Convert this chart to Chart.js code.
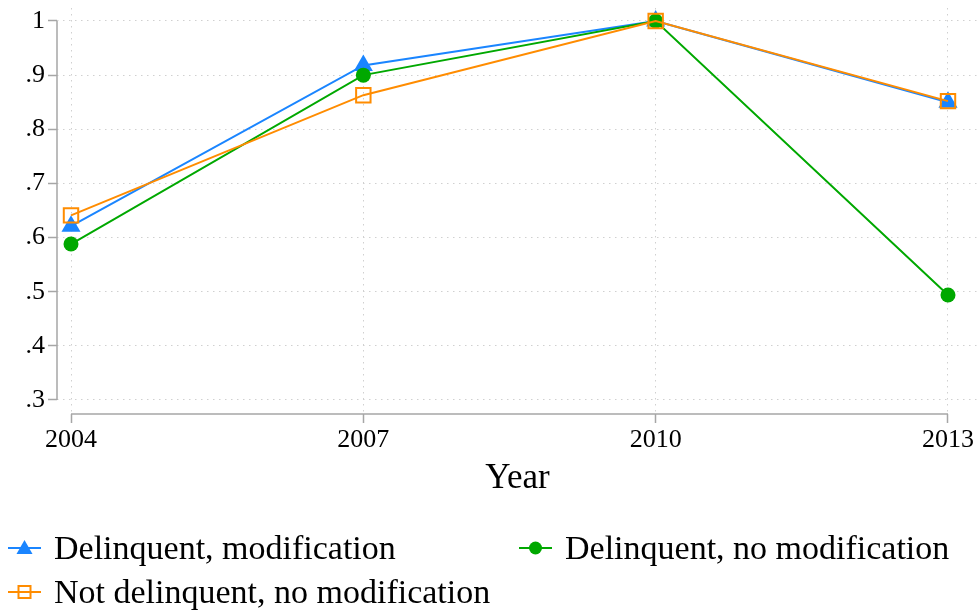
<!DOCTYPE html>
<html>
<head>
<meta charset="utf-8">
<script src="https://cdn.jsdelivr.net/npm/chart.js@4"></script>
<style>
  html, body { margin: 0; padding: 0; background: #fff; }
  #wrap { width: 978px; height: 614px; position: relative; }
</style>
</head>
<body>
<div id="wrap"><canvas id="grafico" width="978" height="614"></canvas></div>
<script>
// datos
var years = [2004, 2007, 2010, 2013];
var delinqMod = [0.621, 0.918, 1.0, 0.85];
var delinqNoMod = [0.588, 0.90, 1.0, 0.494];
var notDelinqNoMod = [0.641, 0.863, 1.0, 0.852];
var yTicks = [0.3, 0.4, 0.5, 0.6, 0.7, 0.8, 0.9, 1];
var labels = ['Delinquent, modification', 'Delinquent, no modification', 'Not delinquent, no modification'];

var azul = '#1a85ff';
var verde = '#00a800';
var naranja = '#ff8c00';
var serif = "'Liberation Serif', 'Times New Roman', serif";

function pts(vals) {
    return years.map(function (y, i) { return { x: y, y: vals[i] }; });
}

// ejes separados como en Stata
var ejes = {
    id: 'ejes',
    afterDraw: function (chart) {
        var c = chart.ctx, x = chart.scales.x, y = chart.scales.y;
        c.save();
        c.strokeStyle = '#a6a6a6';
        c.lineWidth = 1.5;
        c.beginPath();
        c.moveTo(chart.chartArea.left, y.getPixelForValue(yTicks[0]));
        c.lineTo(chart.chartArea.left, y.getPixelForValue(yTicks[yTicks.length - 1]));
        c.moveTo(x.getPixelForValue(years[0]), chart.chartArea.bottom);
        c.lineTo(x.getPixelForValue(years[years.length - 1]), chart.chartArea.bottom);
        c.stroke();
        c.restore();
    }
};

function marcador(c, tipo, cx, cy, color) {
    c.save();
    c.strokeStyle = color;
    c.fillStyle = color;
    if (tipo === 'triangle') {
        c.beginPath();
        c.moveTo(cx, cy - 8);
        c.lineTo(cx + 8, cy + 6);
        c.lineTo(cx - 8, cy + 6);
        c.closePath();
        c.fill();
    } else if (tipo === 'circle') {
        c.beginPath();
        c.arc(cx, cy, 6.5, 0, Math.PI * 2);
        c.fill();
    } else {
        c.lineWidth = 2;
        c.strokeRect(cx - 6, cy - 6, 12, 12);
    }
    c.restore();
}

var leyenda = {
    id: 'leyenda',
    afterDraw: function (chart) {
        var c = chart.ctx;
        var items = [
            { t: labels[0], tipo: 'triangle', col: azul, x: 8, y: 548 },
            { t: labels[1], tipo: 'circle', col: verde, x: 519, y: 548 },
            { t: labels[2], tipo: 'rect', col: naranja, x: 8, y: 592 }
        ];
        c.save();
        c.font = '34px ' + serif;
        c.textBaseline = 'middle';
        items.forEach(function (it) {
            c.strokeStyle = it.col;
            c.lineWidth = 2;
            c.beginPath();
            c.moveTo(it.x, it.y);
            c.lineTo(it.x + 33, it.y);
            c.stroke();
            marcador(c, it.tipo, it.x + 16.5, it.y, it.col);
            c.fillStyle = '#000';
            c.fillText(it.t, it.x + 46, it.y + 2);
        });
        c.restore();
    }
};

var ctx = document.getElementById('grafico');
var myChart = new Chart(ctx, {
    type: 'line',
    data: {
        datasets: [{
            label: labels[0],
            data: pts(delinqMod),
            borderColor: azul,
            backgroundColor: azul,
            borderWidth: 2,
            pointStyle: 'triangle',
            pointRadius: 11,
            pointBorderWidth: 0,
            order: 3
        }, {
            label: labels[1],
            data: pts(delinqNoMod),
            borderColor: verde,
            backgroundColor: verde,
            borderWidth: 2,
            pointStyle: 'circle',
            pointRadius: 7.5,
            pointBorderWidth: 0,
            order: 2
        }, {
            label: labels[2],
            data: pts(notDelinqNoMod),
            borderColor: naranja,
            backgroundColor: 'rgba(0,0,0,0)',
            borderWidth: 2,
            pointStyle: 'rect',
            pointRadius: 10.2,
            pointBorderWidth: 2,
            order: 1
        }]
    },
    options: {
        responsive: false,
        animation: false,
        layout: { autoPadding: false, padding: { top: 8, right: 0, bottom: 114, left: 0 } },
        plugins: {
            legend: { display: false },
            tooltip: { enabled: false }
        },
        scales: {
            x: {
                type: 'linear',
                min: 2003.8563,
                max: 2013.3079,
                afterBuildTicks: function (s) { s.ticks = years.map(function (v) { return { value: v }; }); },
                afterFit: function (s) {
                    s.height = 86;
                    s.paddingLeft = 0;
                    s.paddingRight = 0;
                },
                ticks: {
                    color: '#000',
                    font: { family: serif, size: 26 },
                    padding: 2,
                    maxRotation: 0,
                    callback: function (v) { return String(v); }
                },
                grid: {
                    color: '#d0d0d0',
                    tickColor: '#a6a6a6',
                    tickLength: 9,
                    tickWidth: 1.5,
                    tickBorderDash: []
                },
                border: { display: false, dash: [1.5, 4.5] },
                title: {
                    display: true,
                    text: 'Year',
                    color: '#000',
                    font: { family: serif, size: 35, lineHeight: 1 },
                    padding: { top: 0, bottom: 4 }
                }
            },
            y: {
                min: 0.27414,
                max: 1.024,
                afterBuildTicks: function (s) { s.ticks = yTicks.map(function (v) { return { value: v }; }); },
                afterFit: function (s) {
                    s.width = 57;
                    s.paddingTop = 0;
                    s.paddingBottom = 0;
                },
                ticks: {
                    color: '#000',
                    font: { family: serif, size: 26 },
                    padding: 3,
                    callback: function (v) {
                        return v === 1 ? '1' : String(Math.round(v * 10) / 10).replace('0.', '.');
                    }
                },
                grid: {
                    color: '#d0d0d0',
                    tickColor: '#a6a6a6',
                    tickLength: 9,
                    tickWidth: 1.5,
                    tickBorderDash: []
                },
                border: { display: false, dash: [1.5, 4.5] }
            }
        }
    },
    plugins: [ejes, leyenda]
});
</script>
</body>
</html>
